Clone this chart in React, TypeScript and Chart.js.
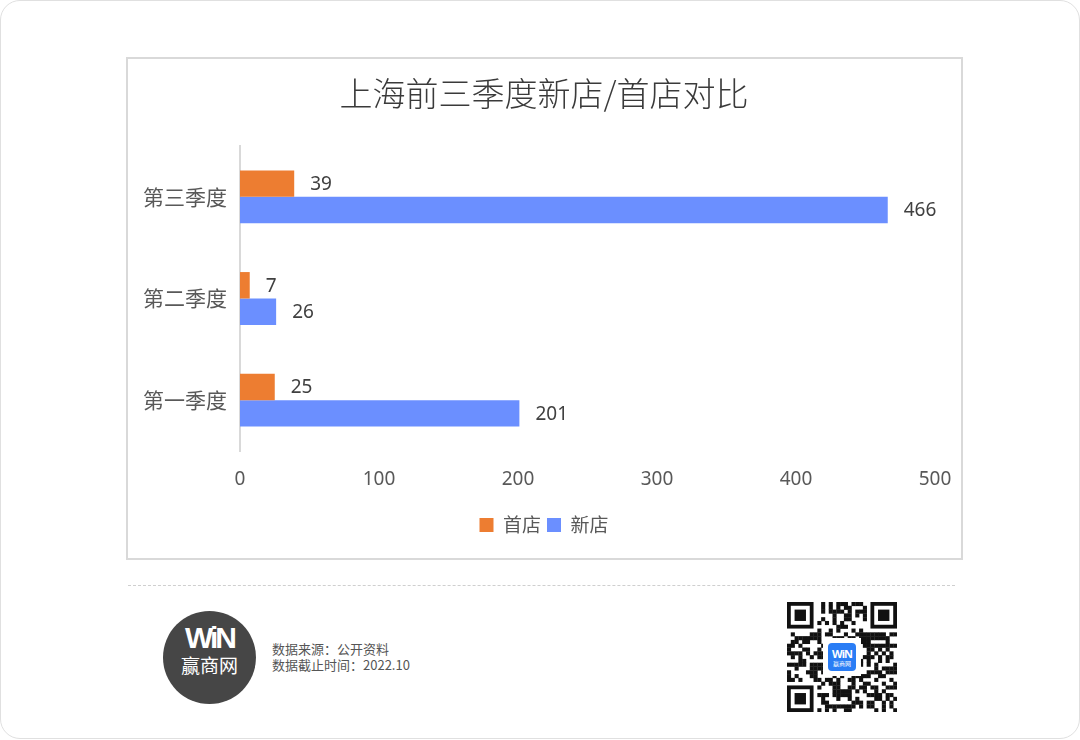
import React, { useEffect, useRef } from "react";
import { Chart, registerables } from "chart.js";

Chart.register(...registerables);

const titleText = "上海前三季度新店/首店对比";
const categories = ["第三季度", "第二季度", "第一季度"];
const seriesNames = ["首店", "新店"];
const firstStores = [39, 7, 25];
const newStores = [466, 26, 201];
const xTicks = [0, 100, 200, 300, 400, 500];
const sourceLines = ["数据来源：公开资料", "数据截止时间：2022.10"];

const ORANGE = "#ED7D31";
const BLUE = "#6B8FFF";
const CJK = "'Noto Sans CJK SC', 'Noto Sans', sans-serif";
const NUM = "'Noto Sans', 'Noto Sans CJK SC', sans-serif";

const valueLabels = {
  id: "valueLabels",
  afterDatasetsDraw(chart: any) {
    const ctx = chart.ctx;
    ctx.save();
    ctx.font = `19px ${NUM}`;
    ctx.fillStyle = "#404040";
    ctx.textAlign = "left";
    ctx.textBaseline = "middle";
    chart.data.datasets.forEach((ds: any, i: number) => {
      const meta = chart.getDatasetMeta(i);
      meta.data.forEach((bar: any, j: number) => {
        ctx.fillText(String(ds.data[j]), bar.x + 16, bar.y + 1);
      });
    });
    ctx.restore();
  },
};

function QRCode() {
  const ref = useRef<HTMLCanvasElement | null>(null);
  useEffect(() => {
    const c = ref.current;
    if (!c) return;
    const ctx = c.getContext("2d")!;
    const N = 29;
    const s = 110 / N;
    ctx.fillStyle = "#fff";
    ctx.fillRect(0, 0, 110, 110);
    ctx.fillStyle = "#111";
    const seed = "winshang-qr-pattern-2022";
    let h = 2166136261;
    const bit = (r: number, col: number) => {
      h ^= seed.charCodeAt((r * 7 + col * 3) % seed.length) + r * 31 + col * 17;
      h = Math.imul(h, 16777619) >>> 0;
      return (h >>> 13) & 1;
    };
    const inFinder = (r: number, col: number) =>
      (r < 8 && col < 8) || (r < 8 && col >= N - 8) || (r >= N - 8 && col < 8);
    for (let r = 0; r < N; r++) {
      for (let col = 0; col < N; col++) {
        if (inFinder(r, col)) continue;
        if (bit(r, col)) ctx.fillRect(col * s, r * s, s + 0.3, s + 0.3);
      }
    }
    const finder = (r0: number, c0: number) => {
      ctx.fillStyle = "#111";
      ctx.fillRect(c0 * s, r0 * s, 7 * s, 7 * s);
      ctx.fillStyle = "#fff";
      ctx.fillRect((c0 + 1) * s, (r0 + 1) * s, 5 * s, 5 * s);
      ctx.fillStyle = "#111";
      ctx.fillRect((c0 + 2) * s, (r0 + 2) * s, 3 * s, 3 * s);
    };
    finder(0, 0);
    finder(0, N - 7);
    finder(N - 7, 0);
    ctx.fillStyle = "#fff";
    ctx.fillRect(36, 36, 38, 38);
  }, []);
  return (
    <div style={{ position: "absolute", left: 787, top: 602, width: 110, height: 110 }}>
      <canvas ref={ref} width={110} height={110} style={{ display: "block" }} />
      <div
        style={{
          position: "absolute",
          left: 41,
          top: 41,
          width: 28,
          height: 28,
          borderRadius: 4,
          background: "#2A7DF5",
          color: "#fff",
          textAlign: "center",
          fontFamily: NUM,
          lineHeight: 1,
        }}
      >
        <div style={{ fontSize: 11, fontWeight: 700, marginTop: 5, letterSpacing: -1 }}>WiN</div>
        <div style={{ fontSize: 6, marginTop: 2, fontFamily: CJK }}>赢商网</div>
      </div>
    </div>
  );
}

export default function App() {
  const canvasRef = useRef<HTMLCanvasElement | null>(null);

  useEffect(() => {
    const canvas = canvasRef.current;
    if (!canvas) return;
    const chart = new Chart(canvas, {
      type: "bar",
      data: {
        labels: categories,
        datasets: [
          {
            label: seriesNames[0],
            data: firstStores,
            backgroundColor: ORANGE,
            borderWidth: 0,
            categoryPercentage: 0.52,
            barPercentage: 1,
          },
          {
            label: seriesNames[1],
            data: newStores,
            backgroundColor: BLUE,
            borderWidth: 0,
            categoryPercentage: 0.52,
            barPercentage: 1,
          },
        ],
      },
      options: {
        indexAxis: "y",
        responsive: false,
        animation: false,
        devicePixelRatio: 1,
        layout: { padding: { left: 25, right: 26, top: 0, bottom: 13.5 } },
        plugins: {
          title: {
            display: true,
            text: titleText,
            color: "#3a3a3a",
            font: { family: CJK, size: 33, weight: "300" },
            padding: { top: 14.2, bottom: 33.2 },
          },
          legend: {
            display: true,
            position: "bottom",
            labels: {
              color: "#595959",
              font: { family: CJK, size: 19 },
              boxWidth: 14,
              boxHeight: 14,
              padding: 6,
            },
          },
          tooltip: { enabled: false },
        },
        scales: {
          x: {
            min: xTicks[0],
            max: xTicks[xTicks.length - 1],
            grid: { display: false, drawTicks: false },
            border: { display: false },
            ticks: {
              stepSize: xTicks[1] - xTicks[0],
              color: "#595959",
              font: { family: NUM, size: 19 },
              padding: 17,
            },
            afterFit(scale: any) {
              scale.height = 58.5;
              scale.paddingLeft = 0;
              scale.paddingRight = 0;
            },
          },
          y: {
            grid: { display: false, drawTicks: false },
            border: { display: true, color: "#d9d9d9", width: 2 },
            ticks: {
              color: "#595959",
              font: { family: CJK, size: 21 },
              padding: 13,
            },
            afterFit(scale: any) {
              scale.width = 87;
              scale._computeLabelArea = () => ({
                top: 0,
                left: 0,
                bottom: scale.chart.height,
                right: scale.right,
              });
            },
          },
        },
      },
      plugins: [valueLabels],
    } as any);
    return () => chart.destroy();
  }, []);

  return (
    <div style={{ position: "fixed", left: 0, top: 0, width: 1080, height: 740, background: "#fff" }}>
      <div
        style={{
          position: "absolute",
          left: 0,
          top: 0,
          width: 1080,
          height: 739,
          boxSizing: "border-box",
          border: "1px solid #e0e0e0",
          borderRadius: 20,
          background: "#fff",
        }}
      />
      <div
        style={{
          position: "absolute",
          left: 126,
          top: 57,
          width: 837,
          height: 503,
          boxSizing: "border-box",
          border: "2px solid #d9d9d9",
          background: "#fff",
        }}
      >
        <canvas ref={canvasRef} width={833} height={499} style={{ display: "block", width: 833, height: 499 }} />
      </div>
      <div
        style={{
          position: "absolute",
          left: 128,
          top: 585,
          width: 827,
          height: 0,
          borderTop: "1px dashed #cfcfcf",
        }}
      />
      <div
        style={{
          position: "absolute",
          left: 163,
          top: 611,
          width: 93,
          height: 93,
          borderRadius: "50%",
          background: "#464646",
          color: "#fff",
          textAlign: "center",
        }}
      >
        <div
          style={{
            marginTop: 12,
            fontFamily: "'Liberation Sans', Arial, sans-serif",
            fontWeight: 700,
            fontSize: 30,
            lineHeight: "30px",
            letterSpacing: -3,
          }}
        >
          WiN
        </div>
        <div style={{ fontFamily: CJK, fontSize: 19, lineHeight: "22px", marginTop: 1 }}>赢商网</div>
      </div>
      <div
        style={{
          position: "absolute",
          left: 272,
          top: 641,
          fontFamily: CJK,
          fontSize: 13,
          lineHeight: "16px",
          color: "#555",
        }}
      >
        {sourceLines.map((t) => (
          <div key={t}>{t}</div>
        ))}
      </div>
      <QRCode />
    </div>
  );
}
